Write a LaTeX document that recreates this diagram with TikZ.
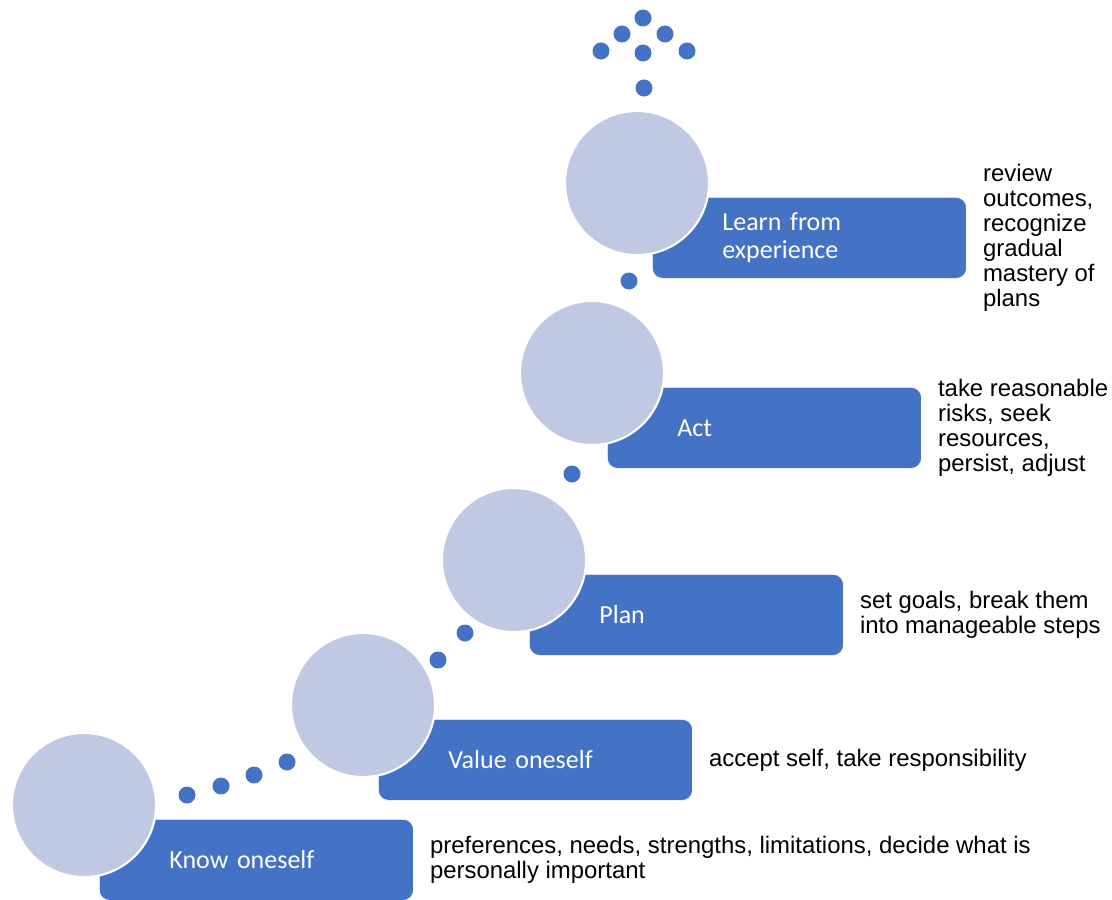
\documentclass[tikz,border=0pt]{standalone}
\usepackage{fontspec}
\setmainfont{Liberation Sans}
\newfontfamily\calib{Carlito}
\usepackage{tikz}
\definecolor{stepblue}{RGB}{68,114,196}
\definecolor{lightlavender}{RGB}{191,201,227}

\tikzset{
	stepbox/.style={draw=white,line width=0.5pt,fill=stepblue,rounded corners=2.5mm,anchor=north west,minimum height=2.025cm,text width=4.35cm,inner xsep=1.75cm,inner ysep=0pt,align=left,text=white,font=\calib\fontsize{18.5}{20}\selectfont},
	disc/.style={draw=white,line width=1.5pt,fill=lightlavender,circle,minimum size=3.6cm,inner sep=0pt},
	bead/.style={circle,fill=stepblue,minimum size=0.425cm,inner sep=0pt},
	note/.style={anchor=west,align=left,inner sep=0pt,font=\fontsize{17}{17.8}\selectfont}
}

\begin{document}
\begin{tikzpicture}[x=0.025cm,y=-0.025cm]
			\useasboundingbox (0,0) rectangle (1112,900);
			\coordinate (k) at (84,805);
			\coordinate (v) at (363,705);
			\coordinate (p) at (514,560);
			\coordinate (a) at (592,373);
			\coordinate (l) at (637,183);
			
			\node[stepbox] (KnowBox) at ([shift={(15,14)}]k) {Know oneself};
			\node[stepbox] (ValueBox) at ([shift={(15,14)}]v) {Value oneself};
			\node[stepbox] (PlanBox) at ([shift={(15,14)}]p) {Plan};
			\node[stepbox] (ActBox) at ([shift={(15,14)}]a) {Act};
			\node[stepbox] (LearnBox) at ([shift={(15,14)}]l) {Learn from\\experience};
			
			\node[disc] (KnowDisc) at (k) {};
			\node[disc] (ValueDisc) at (v) {};
			\node[disc] (PlanDisc) at (p) {};
			\node[disc] (ActDisc) at (a) {};
			\node[disc] (LearnDisc) at (l) {};
			
			\node[note] (KnowNote) at ([shift={(16,0)}]KnowBox.east) {preferences, needs, strengths, limitations, decide what is\\personally important};
			\node[note] (ValueNote) at ([shift={(16,0)}]ValueBox.east) {accept self, take responsibility};
			\node[note] (PlanNote) at ([shift={(16,0)}]PlanBox.east) {set goals, break them\\into manageable steps};
			\node[note] (ActNote) at ([shift={(16,0)}]ActBox.east) {take reasonable\\risks, seek\\resources,\\persist, adjust};
			\node[note] (LearnNote) at ([shift={(16,0)}]LearnBox.east) {review\\outcomes,\\recognize\\gradual\\mastery of\\plans};
			
			\node[bead] (KnowDot1) at (187,795) {};
			\node[bead] (KnowDot2) at (221,786) {};
			\node[bead] (KnowDot3) at (254,775) {};
			\node[bead] (KnowDot4) at (287,762) {};
			\node[bead] (ValueDot1) at (438,660) {};
			\node[bead] (ValueDot2) at (465,633) {};
			\node[bead] (PlanDot) at (572,474) {};
			\node[bead] (ActDot) at (629,281) {};
			\node[bead] (LearnDot) at (644,88) {};
			
			\node[bead] (TipTop) at (643,18) {};
			\node[bead] (TipLeft) at (622,34) {};
			\node[bead] (TipRight) at (665,34) {};
			\node[bead] (TipOuterLeft) at (601,51) {};
			\node[bead] (TipMid) at (643,53) {};
			\node[bead] (TipOuterRight) at (687,51) {};
		\end{tikzpicture}
\end{document}
